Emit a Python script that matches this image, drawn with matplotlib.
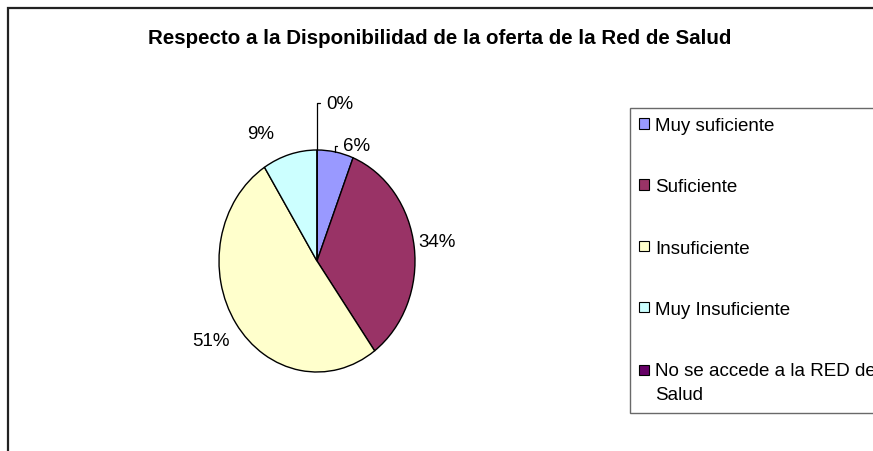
import matplotlib.pyplot as plt
import matplotlib.patches as mpatches
import numpy as np

plt.rcParams['font.family'] = ['Liberation Sans', 'DejaVu Sans']

categories = ['Muy suficiente', 'Suficiente', 'Insuficiente', 'Muy Insuficiente',
              'No se accede a la RED de\nSalud']
percentages = [6, 34, 51, 9, 0]
colors = ['#9999FF', '#993366', '#FFFFCC', '#CCFFFF', '#660066']

W, H = 873, 452
fig = plt.figure(figsize=(W / 100, H / 100), dpi=100)

# outer chart frame (only left and top edges are inside the picture)
fig.patches.append(mpatches.Rectangle((7.5 / W, -0.2), 1.5, 1.2 - 8.5 / H,
                                      transform=fig.transFigure, fill=False,
                                      ec='#222222', lw=1.6))

fig.text(440 / W, 1 - 38 / H, 'Respecto a la Disponibilidad de la oferta de la Red de Salud',
         ha='center', va='center', fontsize=14.8, fontweight='bold')

# pie is slightly taller than wide, as in the reference
cx, cy, rx, ry = 317, 262, 98, 111
ax = fig.add_axes([(cx - rx) / W, (H - cy - ry) / H, 2 * rx / W, 2 * ry / H])
wedges, _ = ax.pie(percentages, colors=colors, startangle=90, counterclock=False,
                   wedgeprops=dict(edgecolor='black', linewidth=1.0))
ax.set_aspect('auto')
ax.set_xlim(-1, 1)
ax.set_ylim(-1, 1)

# label anchor (axes data units) and alignment, per slice
label_pos = [(0.265, 1.04, 'left'), (1.03, 0.18, 'left'), (-0.89, -0.72, 'right'),
             (-0.58, 1.15, 'center'), (0.09, 1.42, 'left')]
leader = [True, False, False, False, True]

for i, w in enumerate(wedges):
    lab = f'{percentages[i]:.0f}%'
    tx, ty, ha = label_pos[i]
    if leader[i]:
        th = np.deg2rad((w.theta1 + w.theta2) / 2)
        ax.annotate(lab, xy=(np.cos(th), np.sin(th)), xytext=(tx, ty),
                    ha=ha, va='center', fontsize=13.5,
                    arrowprops=dict(arrowstyle='-', color='black', lw=0.9,
                                    shrinkA=2, shrinkB=0,
                                    connectionstyle='angle,angleA=0,angleB=90,rad=0'))
    else:
        ax.text(tx, ty, lab, ha=ha, va='center', fontsize=13.5)

handles = [mpatches.Patch(facecolor=c, edgecolor='black', lw=0.8) for c in colors]
leg = fig.legend(handles, categories, loc='upper left',
                 bbox_to_anchor=(630 / W, 1 - 109 / H), fontsize=13.5,
                 frameon=True, fancybox=False, edgecolor='#444444',
                 labelspacing=2.35, handlelength=0.5, handleheight=0.5,
                 handletextpad=0.35, borderpad=0.5, borderaxespad=0)
leg.get_frame().set_linewidth(1.0)
for t in leg.get_texts():
    t.set_linespacing(1.6)

# two-line entry: keep the swatch next to the first line, like Excel does
last = leg.legend_handles[-1]
last.set_y(last.get_y() + 9)

fig.savefig('out.png', dpi=100)
